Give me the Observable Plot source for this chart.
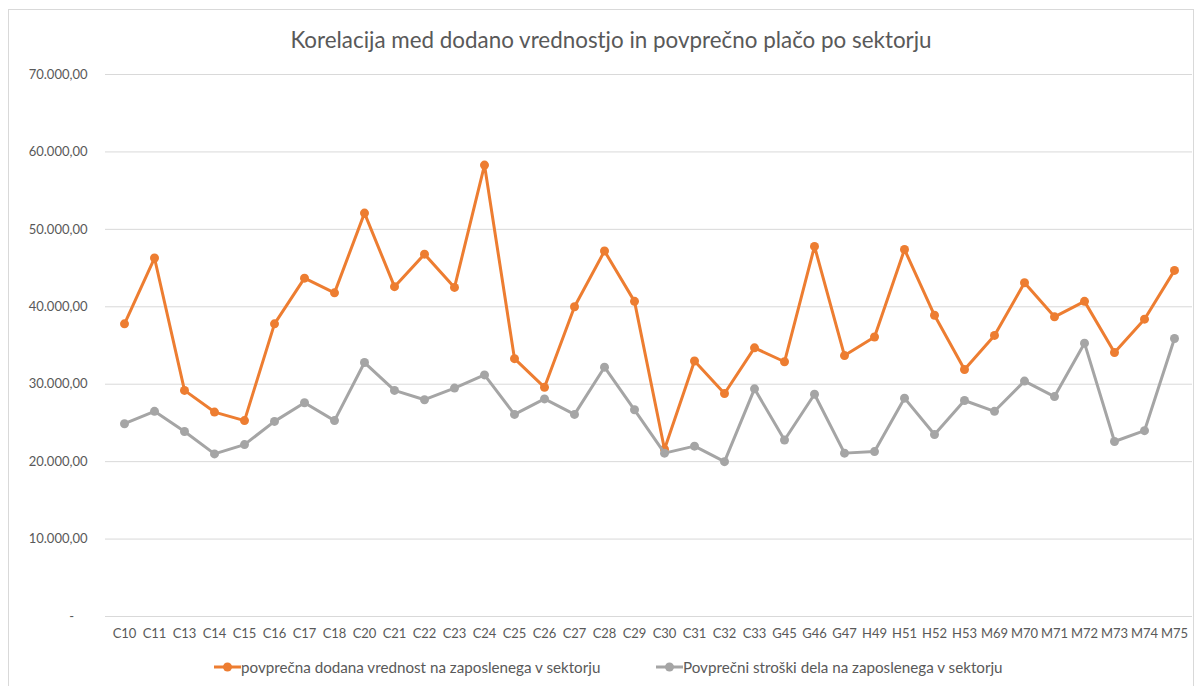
<!DOCTYPE html>
<html>
<head>
<meta charset="utf-8">
<script src="https://cdn.jsdelivr.net/npm/d3@7"></script>
<script src="https://cdn.jsdelivr.net/npm/@observablehq/plot@0.6"></script>
<style>
  body { margin: 0; background: #fff; font-family: Lato, "Open Sans", sans-serif; }
  #wrap { position: relative; width: 1200px; height: 686px; overflow: hidden; background: #fff; }
  #frame { position: absolute; left: 8px; top: 9px; width: 1186px; height: 720px; border: 1px solid #d9d9d9; box-sizing: border-box; }
  #title { position: absolute; left: 0; width: 1222px; top: 26px; text-align: center; font-size: 22.4px; color: #595959; font-family: Lato, sans-serif; }
  #chart { position: absolute; left: 0; top: 60px; }
  #legend { position: absolute; top: 658px; left: 0; width: 1200px; height: 22px; font-size: 15.2px; color: #595959; }
  .item { position: absolute; display: flex; align-items: center; }
  .item svg { margin-right: 0px; }
</style>
</head>
<body>
<div id="wrap">
  <div id="frame"></div>
  <div id="title"></div>
  <div id="chart"></div>
  <div id="legend"></div>
</div>
<script>
const titleText = "Korelacija med dodano vrednostjo in povprečno plačo po sektorju";
const categories = ["C10","C11","C13","C14","C15","C16","C17","C18","C20","C21","C22","C23","C24","C25","C26","C27","C28","C29","C30","C31","C32","C33","G45","G46","G47","H49","H51","H52","H53","M69","M70","M71","M72","M73","M74","M75"];
const addedValue = [37800,46300,29200,26400,25300,37800,43700,41800,52100,42600,46800,42500,58300,33300,29600,40000,47200,40700,21600,33000,28800,34700,32900,47800,33700,36100,47400,38900,31900,36300,43100,38700,40700,34100,38400,44700];
const laborCost = [24900,26500,23900,21000,22200,25200,27600,25300,32800,29200,28000,29500,31200,26100,28100,26100,32200,26700,21100,22000,20000,29400,22800,28700,21100,21300,28200,23500,27900,26500,30400,28400,35300,22600,24000,35900];
const yTicks = [0,10000,20000,30000,40000,50000,60000,70000];
const seriesNames = ["povprečna dodana vrednost na zaposlenega v sektorju", "Povprečni stroški dela na zaposlenega v sektorju"];
const colors = ["#ED7D31", "#A5A5A5"];

document.getElementById("title").textContent = titleText;

const loc = d3.formatLocale({decimal: ",", thousands: ".", grouping: [3], currency: ["", ""]});
const fmt = loc.format(",.2f");
const yFormat = d => d === 0 ? "-\u00a0\u00a0\u00a0\u00a0" : fmt(d);

const rowsA = categories.map((c, i) => ({cat: c, v: addedValue[i]}));
const rowsB = categories.map((c, i) => ({cat: c, v: laborCost[i]}));

const chart = Plot.plot({
  width: 1200,
  height: 600,
  marginTop: 14,
  marginBottom: 44,
  marginLeft: 105,
  marginRight: 8,
  style: {fontFamily: "Lato, sans-serif", fontSize: "13px", color: "#595959", background: "transparent"},
  x: {type: "point", domain: categories, padding: 0.5, label: null},
  y: {domain: [0, 70000], label: null},
  marks: [
    Plot.ruleY(yTicks, {stroke: "#d9d9d9", strokeWidth: 1}),
    Plot.line(rowsA, {x: "cat", y: "v", stroke: colors[0], strokeWidth: 3}),
    Plot.dot(rowsA, {x: "cat", y: "v", r: 4.5, fill: colors[0]}),
    Plot.line(rowsB, {x: "cat", y: "v", stroke: colors[1], strokeWidth: 3}),
    Plot.dot(rowsB, {x: "cat", y: "v", r: 4.5, fill: colors[1]}),
    Plot.axisX({tickSize: 0, tickPadding: 12, label: null, fill: "#595959"}),
    Plot.axisY({ticks: yTicks, tickFormat: yFormat, tickSize: 0, tickPadding: 18, label: null, fill: "#595959"})
  ]
});
document.getElementById("chart").appendChild(chart);

const legend = document.getElementById("legend");
const lefts = [214, 656];
seriesNames.forEach((name, i) => {
  const item = document.createElement("div");
  item.className = "item";
  item.style.left = lefts[i] + "px";
  item.innerHTML = `<svg width="27" height="12"><line x1="0" y1="6" x2="27" y2="6" stroke="${colors[i]}" stroke-width="3"/><circle cx="13.5" cy="6" r="4.5" fill="${colors[i]}"/></svg><span></span>`;
  item.querySelector("span").textContent = name;
  legend.appendChild(item);
});
</script>
</body>
</html>
